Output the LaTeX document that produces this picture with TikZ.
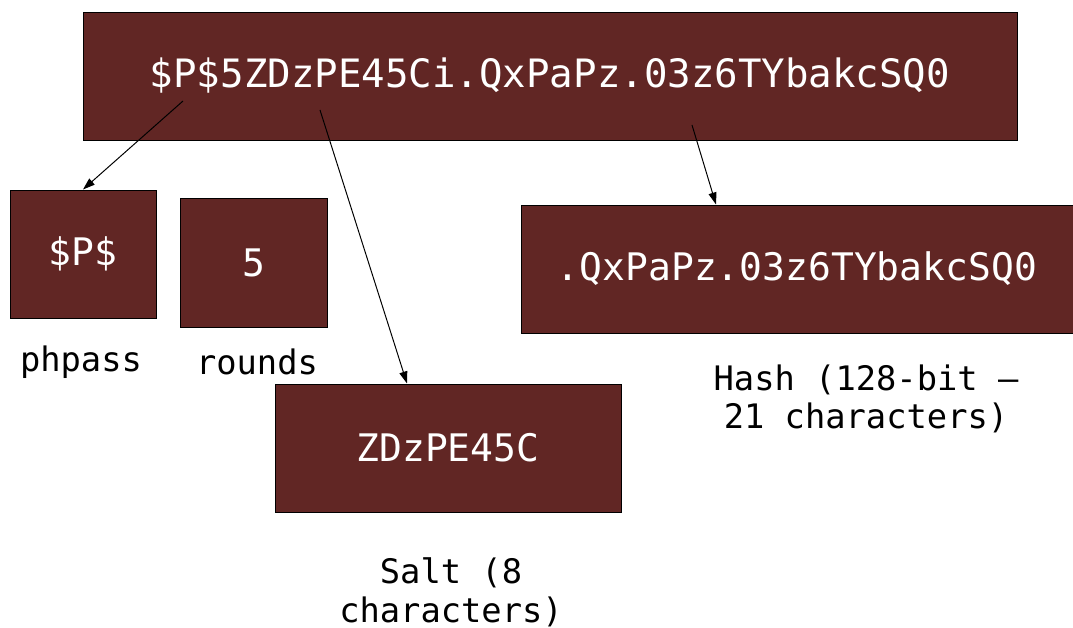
\documentclass[tikz,border=0pt]{standalone}
\usepackage{fontspec}
\setmonofont{DejaVu Sans Mono}
\usetikzlibrary{arrows.meta, positioning}

\begin{document}
\begin{tikzpicture}[x=0.025cm,y=-0.025cm,font=\ttfamily,->,>={Triangle[length=3mm,width=2mm]},line width=0.7pt]

		\tikzset{part box/.style={rectangle, draw=black,
				fill=partred, text=white, inner sep=0pt,
				font=\ttfamily\fontsize{27}{31}\selectfont}}
		\tikzset{part label/.style={align=center, text=black,
				font=\ttfamily\fontsize{24}{27.5}\selectfont}}
		\definecolor{partred}{RGB}{97,38,36}

	\useasboundingbox (0,0) rectangle (1073,628);

	\node[part box, minimum width=934*0.025cm, minimum height=128*0.025cm,
		font=\ttfamily\fontsize{27.8}{31}\selectfont] (full) at (550,76) {\$P\$5ZDzPE45Ci.QxPaPz.03z6TYbakcSQ0};
	\node[part box, minimum width=146*0.025cm, minimum height=128*0.025cm] (id) at (83,254) {\$P\$};
	\node[part box, minimum width=147*0.025cm, minimum height=129*0.025cm] (rnd) at (253.5,262.5) {5};
	\node[part box, minimum width=552*0.025cm, minimum height=128*0.025cm] (hash) at (797,269) {.QxPaPz.03z6TYbakcSQ0};
	\node[part box, minimum width=346*0.025cm, minimum height=128*0.025cm] (salt) at (448,448) {ZDzPE45C};

	\node[part label] (idlbl) at (81,362) {phpass};
	\node[part label] (rndlbl) at (257,362) {rounds};
	\node[part label] (hashlbl) at (866,399) {Hash (128-bit –\\21 characters)};
	\node[part label] (saltlbl) at (451,592) {Salt (8\\characters)};

	% start points inside the full string box
	\coordinate (idfrom) at (183,101);
	\coordinate (saltfrom) at (320,110);
	\coordinate (hashfrom) at (692,125);

	\draw (idfrom) -- (id.north);
	\draw (saltfrom) -- (salt.north -| 407,0);
	\draw (hashfrom) -- (hash.north -| 716,0);
	\end{tikzpicture}
\end{document}
